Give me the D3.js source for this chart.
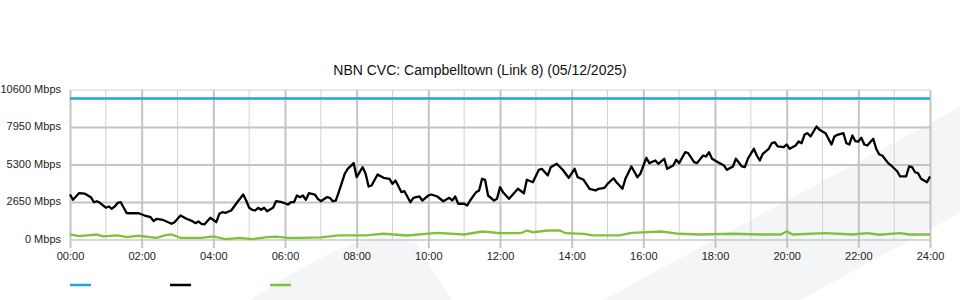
<!DOCTYPE html>
<html>
<head>
<meta charset="utf-8">
<script src="https://cdn.jsdelivr.net/npm/d3@7"></script>
<style>
  body { margin: 0; background: #fff; }
  svg { display: block; font-family: "Liberation Sans", Arial, sans-serif; }
</style>
</head>
<body>
<svg id="chart" width="960" height="300"></svg>
<script>
const title = "NBN CVC: Campbelltown (Link 8) (05/12/2025)";

// link capacity (blue), Mbps
const capacity = 10000;

// traffic (black), [minute of day, Mbps]
const traffic = [
  [0,3220],[5,2840],[15,3310],[25,3270],[35,3025],[40,2670],[45,2740],[50,2630],[60,2280],[65,2370],
  [70,2205],[75,2370],[80,2630],[85,2670],[95,1895],[100,1890],[105,1890],[110,1895],[115,1890],[125,1730],
  [135,1610],[140,1330],[145,1500],[155,1430],[170,1145],[175,1260],[185,1730],[195,1500],[205,1330],[210,1190],
  [215,1310],[220,1145],[225,1095],[235,1570],[245,1260],[250,1850],[255,1965],[260,1920],[270,2085],[280,2670],
  [290,3215],[295,2790],[300,2275],[305,2135],[310,2085],[315,2275],[320,2135],[325,2275],[330,2035],[340,2275],
  [345,2740],[355,2670],[365,2510],[370,2670],[375,2670],[380,3145],[385,3025],[390,3145],[395,2840],[400,3305],
  [410,3215],[415,2910],[420,2740],[430,3025],[435,2980],[440,2740],[445,2790],[450,3380],[460,4680],[465,5030],
  [475,5430],[480,4440],[490,5145],[495,4680],[500,3780],[505,3850],[515,4630],[525,4395],[535,4325],[540,3970],
  [545,4205],[555,3380],[560,3450],[570,2670],[575,2980],[585,3075],[590,2790],[600,3145],[605,3215],[615,3075],
  [625,2740],[635,2980],[640,2790],[645,3075],[650,2560],[660,2560],[665,2440],[670,2790],[680,3380],[685,3500],
  [690,4325],[695,4255],[700,3145],[710,2790],[715,2910],[720,3730],[725,3380],[735,2910],[740,3145],[750,3620],
  [760,3305],[765,4255],[775,4085],[785,4960],[790,5030],[800,4560],[805,5145],[815,5385],[825,4960],[835,4395],
  [845,5030],[850,4440],[860,4255],[870,3620],[880,3500],[885,3620],[895,3690],[900,3970],[910,4365],[915,4085],
  [925,3620],[930,4325],[940,5195],[950,4440],[955,4680],[965,5810],[970,5430],[980,5620],[985,5385],[995,5740],
  [1000,5030],[1010,5265],[1015,5670],[1020,5430],[1030,6205],[1035,6135],[1045,5500],[1050,5430],[1060,5970],[1065,5900],
  [1070,6205],[1075,5740],[1085,5500],[1095,5265],[1100,4960],[1110,5195],[1115,5740],[1125,5195],[1130,5145],[1135,5740],
  [1145,6445],[1150,5970],[1155,5620],[1160,6090],[1170,6445],[1175,6840],[1180,6910],[1185,6610],[1195,6560],[1200,6750],
  [1205,6445],[1215,6680],[1220,6960],[1225,6840],[1230,7455],[1235,7550],[1240,7315],[1250,8020],[1255,7790],[1265,7550],
  [1270,7150],[1275,6750],[1280,7315],[1285,7435],[1295,7550],[1300,6840],[1305,6750],[1310,7385],[1315,6980],[1320,6960],
  [1325,7220],[1330,6750],[1335,6680],[1345,7150],[1350,6445],[1355,6040],[1360,5970],[1370,5430],[1375,5265],[1385,4860],
  [1390,4490],[1400,4490],[1405,5195],[1410,5145],[1415,4790],[1420,4720],[1425,4325],[1435,4085],[1440,4490]
];

// second series (green), [minute of day, Mbps]
const upstream = [
  [0,390],[15,270],[45,390],[55,250],[80,320],[95,200],[115,300],[145,155],[160,340],[170,390],
  [185,155],[220,155],[240,250],[260,60],[285,155],[305,60],[330,200],[345,240],[365,155],[385,155],
  [420,180],[450,320],[495,320],[525,440],[565,320],[615,510],[660,390],[690,600],[720,480],[755,480],
  [765,670],[775,550],[800,670],[820,670],[830,480],[860,440],[875,320],[920,320],[940,510],[990,600],
  [1020,440],[1055,390],[1110,440],[1155,390],[1190,390],[1200,620],[1210,390],[1265,480],[1310,390],[1335,480],
  [1355,370],[1390,480],[1405,390],[1440,390]
];

const yTicks = [0, 2650, 5300, 7950, 10600];
const xTickLabels = ["00:00","02:00","04:00","06:00","08:00","10:00","12:00","14:00","16:00","18:00","20:00","22:00","24:00"];

const legendColors = ["#22a3dd", "#000000", "#80c13b"];

const svg = d3.select("#chart");
const plotLeft = 70, plotRight = 930, plotTop = 90, plotBottom = 240;

const x = d3.scaleLinear().domain([0, 1440]).range([plotLeft, plotRight]);
const y = d3.scaleLinear().domain([0, 10600]).range([plotBottom, plotTop]);

// faint background watermark
svg.append("path")
  .attr("d", "M603,300 L960,107 L960,213 L800,300 Z")
  .attr("fill", "#f4f5f7");
svg.append("path")
  .attr("d", "M250,300 C300,268 345,240 392,235 Q410,234 416,244 L452,300 Z")
  .attr("fill", "#f4f5f7");

// hourly grid
const hours = d3.range(0, 1441, 60);
svg.append("g")
  .selectAll("line")
  .data(hours.filter(h => (h / 60) % 2 === 1))
  .enter().append("line")
  .attr("x1", d => x(d)).attr("x2", d => x(d))
  .attr("y1", plotTop).attr("y2", plotBottom)
  .attr("stroke", "#d2d2d2")
  .attr("stroke-width", 1);

svg.append("g")
  .selectAll("line")
  .data(yTicks.slice(1, -1))
  .enter().append("line")
  .attr("x1", plotLeft).attr("x2", plotRight)
  .attr("y1", d => y(d)).attr("y2", d => y(d))
  .attr("stroke", "#c4c4c4")
  .attr("stroke-width", 2);

svg.append("line")
  .attr("x1", plotLeft).attr("x2", plotRight)
  .attr("y1", y(10600)).attr("y2", y(10600))
  .attr("stroke", "#d2d2d2");

svg.append("line")
  .attr("x1", plotLeft).attr("x2", plotRight)
  .attr("y1", y(0)).attr("y2", y(0))
  .attr("stroke", "#c8c8c8")
  .attr("stroke-width", 1.5);

const xAxis = d3.axisBottom(x)
  .tickValues(hours.filter(h => (h / 60) % 2 === 0))
  .tickSize(plotBottom - plotTop + 8)
  .tickFormat((d, i) => xTickLabels[i]);

svg.append("g")
  .attr("transform", `translate(0,${plotTop})`)
  .call(xAxis)
  .call(g => g.select(".domain").remove())
  .call(g => g.selectAll(".tick line").attr("stroke", "#c4c4c4").attr("stroke-width", 2))
  .call(g => g.selectAll(".tick text")
    .attr("y", plotBottom - plotTop + 12)
    .attr("fill", "#222")
    .style("font-size", "11px")
    .style("font-family", "'Liberation Sans', Arial, sans-serif"));

const yAxis = d3.axisLeft(y)
  .tickValues(yTicks)
  .tickSize(0)
  .tickPadding(9)
  .tickFormat(d => d + " Mbps");

svg.append("g")
  .attr("transform", `translate(${plotLeft},0)`)
  .call(yAxis)
  .call(g => g.select(".domain").remove())
  .call(g => g.selectAll(".tick text")
    .attr("y", -1.5)
    .attr("fill", "#222")
    .style("font-size", "11px")
    .style("font-family", "'Liberation Sans', Arial, sans-serif"));

// series
const line = d3.line()
  .x(d => x(d[0]))
  .y(d => y(d[1]));

svg.append("path")
  .datum([[0, capacity], [1440, capacity]])
  .attr("fill", "none")
  .attr("stroke", legendColors[0])
  .attr("stroke-width", 2.5)
  .attr("d", line);

svg.append("path")
  .datum(upstream)
  .attr("fill", "none")
  .attr("stroke", legendColors[2])
  .attr("stroke-width", 2.3)
  .attr("d", line);

svg.append("path")
  .datum(traffic)
  .attr("fill", "none")
  .attr("stroke", legendColors[1])
  .attr("stroke-width", 2.3)
  .attr("stroke-linejoin", "round")
  .attr("d", line);

// title
svg.append("text")
  .attr("x", 480)
  .attr("y", 75)
  .attr("text-anchor", "middle")
  .attr("fill", "#111")
  .style("font-size", "14px")
  .text(title);

// legend (swatches only)
svg.append("g")
  .selectAll("line")
  .data(legendColors)
  .enter().append("line")
  .attr("x1", (d, i) => 70 + i * 100)
  .attr("x2", (d, i) => 91 + i * 100)
  .attr("y1", 285).attr("y2", 285)
  .attr("stroke", d => d)
  .attr("stroke-width", 2.5);
</script>
</body>
</html>
